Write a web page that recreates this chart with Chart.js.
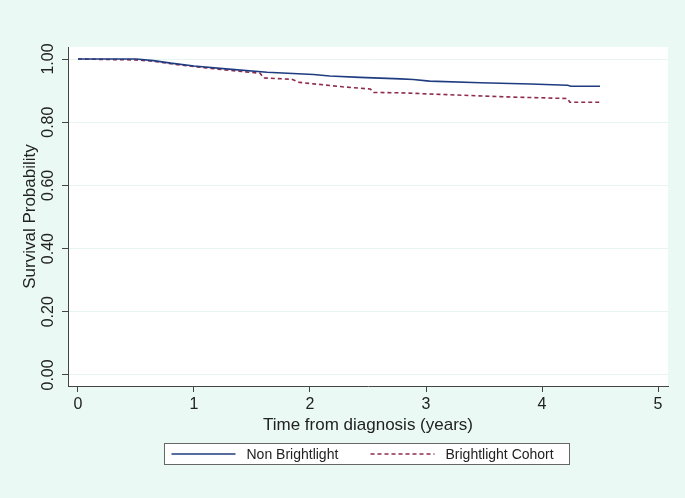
<!DOCTYPE html>
<html>
<head>
<meta charset="utf-8">
<script src="https://cdn.jsdelivr.net/npm/chart.js@4.4.1/dist/chart.umd.min.js"></script>
<style>
	html, body { margin: 0; padding: 0; background: #eaf9f4; }
	#wrap { width: 685px; height: 498px; }
</style>
</head>
<body>
<div id="wrap"><canvas id="km"></canvas></div>
<script>
// Kaplan-Meier estimates
const timesNon = [0, 0.5, 0.65, 0.8, 1.0, 1.3, 1.63, 2.03, 2.17, 2.43, 2.78, 2.89, 3.03, 3.47, 3.9, 4.22, 4.25, 4.5];
const survNon = [1, 1, 0.995, 0.987, 0.978, 0.968, 0.958, 0.951, 0.946, 0.942, 0.937, 0.935, 0.930, 0.925, 0.921, 0.917, 0.914, 0.914];

const timesBright = [0, 0.5, 0.65, 0.8, 1.0, 1.28, 1.57, 1.6, 1.84, 1.91, 2.28, 2.52, 2.55, 2.78, 3.12, 3.7, 4.22, 4.24, 4.5];
const survBright = [1, 0.997, 0.993, 0.985, 0.976, 0.965, 0.955, 0.940, 0.936, 0.926, 0.912, 0.905, 0.894, 0.893, 0.888, 0.880, 0.875, 0.863, 0.863];

const seriesLabels = ['Non Brightlight', 'Brightlight Cohort'];
const xTicks = [0, 1, 2, 3, 4, 5];
const yTicks = [0, 0.2, 0.4, 0.6, 0.8, 1.0];

const FONT = 'Arial, "Liberation Sans", sans-serif';
const toPoints = (xs, ys) => xs.map((x, i) => ({ x, y: ys[i] }));

// white plot region
const plotBg = {
	id: 'plotBg',
	beforeDraw(chart) {
		const { ctx, chartArea: a } = chart;
		ctx.save();
		ctx.fillStyle = '#ffffff';
		ctx.fillRect(a.left, a.top, a.right - a.left, a.bottom - a.top);
		ctx.restore();
	}
};

// y tick labels are vertical in the original
const yLabels = {
	id: 'yLabels',
	afterDraw(chart) {
		const { ctx } = chart;
		const y = chart.scales.y;
		ctx.save();
		ctx.font = '16px ' + FONT;
		ctx.fillStyle = '#222';
		ctx.textAlign = 'center';
		ctx.textBaseline = 'middle';
		y.ticks.forEach((t) => {
			const py = y.getPixelForValue(t.value);
			ctx.save();
			ctx.translate(y.right - 19, py);
			ctx.rotate(-Math.PI / 2);
			ctx.fillText(t.value.toFixed(2), 0, 0);
			ctx.restore();
		});
		ctx.restore();
	}
};

// boxed legend below the axis title
const boxLegend = {
	id: 'boxLegend',
	afterDraw(chart) {
		const { ctx, chartArea: a } = chart;
		const w = 405, h = 21;
		const left = Math.round((a.left + a.right) / 2 - w / 2) - 1.5;
		const top = chart.height - 55 + 0.5;
		ctx.save();
		ctx.fillStyle = '#fff';
		ctx.fillRect(left, top, w, h);
		ctx.strokeStyle = '#666';
		ctx.lineWidth = 1;
		ctx.strokeRect(left, top, w, h);
		ctx.font = '14px ' + FONT;
		ctx.fillStyle = '#222';
		ctx.textBaseline = 'middle';
		const cy = top + h / 2;
		const offsets = [7, 206];
		chart.data.datasets.forEach((ds, i) => {
			const x0 = left + offsets[i];
			ctx.beginPath();
			ctx.strokeStyle = ds.borderColor;
			ctx.lineWidth = ds.borderWidth;
			ctx.setLineDash(ds.borderDash || []);
			ctx.moveTo(x0, cy);
			ctx.lineTo(x0 + 64, cy);
			ctx.stroke();
			ctx.setLineDash([]);
			ctx.fillText(ds.label, x0 + 75, cy + 1);
		});
		ctx.restore();
	}
};

new Chart(document.getElementById('km'), {
	type: 'line',
	data: {
		datasets: [
			{
				label: seriesLabels[0],
				data: toPoints(timesNon, survNon),
				borderColor: '#1f3c80',
				borderWidth: 1.6,
				pointRadius: 0,
				tension: 0
			},
			{
				label: seriesLabels[1],
				data: toPoints(timesBright, survBright),
				borderColor: '#8e2c4c',
				borderWidth: 1.6,
				borderDash: [4, 3],
				pointRadius: 0,
				tension: 0
			}
		]
	},
	options: {
		responsive: true,
		maintainAspectRatio: false,
		animation: false,
		layout: { padding: { top: 47, right: 17, bottom: 60, left: 0 } },
		plugins: {
			legend: { display: false },
			tooltip: { enabled: false }
		},
		scales: {
			x: {
				type: 'linear',
				min: -0.086,
				max: 5.086,
				afterBuildTicks: (s) => { s.ticks = xTicks.map((v) => ({ value: v })); },
				afterFit: (s) => { s.height = 52; },
				grid: { drawOnChartArea: false, tickLength: 6, tickColor: '#444' },
				border: { color: '#444', width: 1 },
				ticks: {
					padding: 3,
					color: '#222',
					font: { family: FONT, size: 16 },
					maxRotation: 0
				},
				title: {
					display: true,
					text: 'Time from diagnosis (years)',
					color: '#222',
					font: { family: FONT, size: 17 },
					padding: { top: 0, bottom: 2 }
				}
			},
			y: {
				min: -0.035,
				max: 1.038,
				afterBuildTicks: (s) => { s.ticks = yTicks.map((v) => ({ value: v })); },
				afterFit: (s) => { s.width = 68; },
				grid: { color: '#e6f5f0', tickLength: 6, tickColor: '#444' },
				border: { color: '#444', width: 1 },
				ticks: { display: false },
				title: {
					display: true,
					text: 'Survival Probability',
					color: '#222',
					font: { family: FONT, size: 17 },
					padding: { top: 20, bottom: 0 }
				}
			}
		}
	},
	plugins: [plotBg, yLabels, boxLegend]
});
</script>
</body>
</html>
